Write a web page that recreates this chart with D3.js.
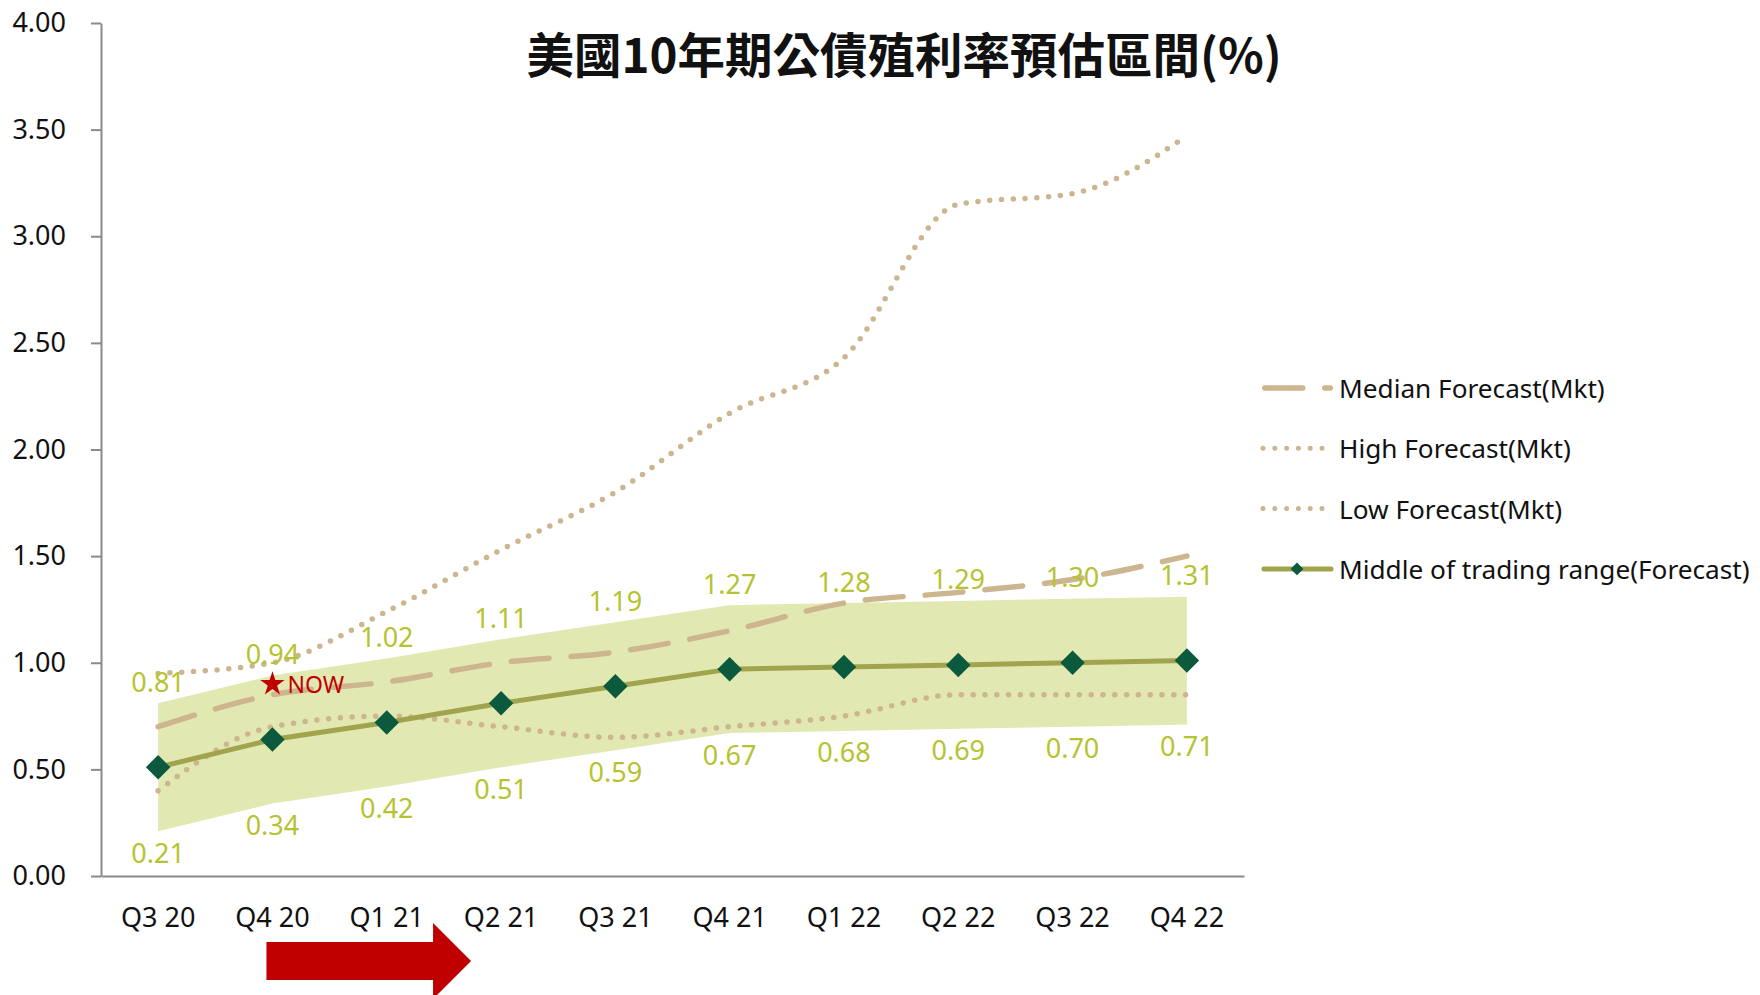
<html>
<head>
	<meta charset="utf-8">
	<title>US 10Y Treasury Yield Forecast</title>
	<style>
		body { margin: 0; background: #fff; }
		text { font-family: "Noto Sans", "Noto Sans CJK TC", sans-serif; }
	</style>
</head>
<body>
	<script src="https://cdnjs.cloudflare.com/ajax/libs/d3/7.8.5/d3.min.js"></script>
	<script type="text/javascript">
		// quarters on the x axis
		var categories = ["Q3 20", "Q4 20", "Q1 21", "Q2 21", "Q3 21", "Q4 21", "Q1 22", "Q2 22", "Q3 22", "Q4 22"];
		// trading range (forecast) band
		var rangeHigh = [0.81, 0.94, 1.02, 1.11, 1.19, 1.27, 1.28, 1.29, 1.30, 1.31];
		var rangeLow = [0.21, 0.34, 0.42, 0.51, 0.59, 0.67, 0.68, 0.69, 0.70, 0.71];
		var rangeMid = [0.51, 0.64, 0.72, 0.81, 0.89, 0.97, 0.98, 0.99, 1.00, 1.01];
		// market forecasts
		var medianMkt = [0.70, 0.85, 0.91, 1.00, 1.05, 1.15, 1.28, 1.33, 1.39, 1.50];
		var highMkt = [0.95, 1.00, 1.24, 1.53, 1.80, 2.17, 2.43, 3.15, 3.20, 3.47];
		var lowMkt = [0.40, 0.70, 0.75, 0.70, 0.65, 0.70, 0.75, 0.85, 0.85, 0.85];
		var yTicks = [0, 0.5, 1, 1.5, 2, 2.5, 3, 3.5, 4];
		var legendNames = ["Median Forecast(Mkt)", "High Forecast(Mkt)", "Low Forecast(Mkt)", "Middle of trading range(Forecast)"];
		var nowMark = {cat: "Q4 20", value: 0.90, label: "NOW"};
		var title = "美國10年期公債殖利率預估區間(%)";

		var W = 1760, H = 995;
		var tan = "#ccb58f", olive = "#a1a34d", dark = "#0b5a3d", lbl = "#b6c331", band = "#e2e8b2", red = "#c00000";
		var fs = "27px";

		var svg = d3.select("body").append("svg")
					.attr("width", W)
					.attr("height", H);

		var x = d3.scaleBand().domain(categories).range([101, 1244]);
		var y = d3.scaleLinear().domain([0, 4]).range([876, 23]);
		var xc = function(c){ return x(c) + x.bandwidth()/2; };

		function rows(vals){
			return categories.map(function(c, i){ return {c: c, v: vals[i]}; });
		}

		// band
		var bandData = categories.map(function(c, i){ return {c: c, lo: rangeLow[i], hi: rangeHigh[i]}; });
		svg.append("path")
			.datum(bandData)
			.attr("d", d3.area()
				.x(function(d){ return xc(d.c); })
				.y0(function(d){ return y(d.lo); })
				.y1(function(d){ return y(d.hi); }))
			.style("fill", band);

		// axes
		var yAxis = svg.append("g")
			.attr("transform", "translate(101,0)")
			.call(d3.axisLeft(y).tickValues(yTicks).tickFormat(d3.format(".2f")).tickSize(10).tickPadding(25).tickSizeOuter(0));
		yAxis.selectAll("text").style("font-size", fs).style("fill", "#111");

		var xAxis = svg.append("g")
			.attr("transform", "translate(0,876)")
			.call(d3.axisBottom(x).tickSize(0).tickPadding(32).tickSizeOuter(0));
		xAxis.selectAll("text").style("font-size", fs).style("fill", "#111");
		// ticks sit on the category boundaries
		xAxis.selectAll(".bound")
			.data(categories.map(function(c){ return x(c); }).concat([x.range()[1]]))
			.enter().append("line")
			.attr("x1", function(d){ return d; })
			.attr("x2", function(d){ return d; })
			.attr("y1", 0)
			.attr("y2", 10);
		svg.selectAll(".domain, .tick line, .bound")
			.style("stroke", "#8a8a8a")
			.style("stroke-width", "2px");

		var smooth = d3.line()
			.x(function(d){ return xc(d.c); })
			.y(function(d){ return y(d.v); })
			.curve(d3.curveMonotoneX);
		var straight = d3.line()
			.x(function(d){ return xc(d.c); })
			.y(function(d){ return y(d.v); });

		[highMkt, lowMkt].forEach(function(s){
			svg.append("path")
				.datum(rows(s))
				.attr("d", smooth)
				.style("fill", "none")
				.style("stroke", tan)
				.style("stroke-width", "5.5px")
				.style("stroke-linecap", "round")
				.style("stroke-dasharray", "0 11.8");
		});
		svg.append("path")
			.datum(rows(medianMkt))
			.attr("d", smooth)
			.style("fill", "none")
			.style("stroke", tan)
			.style("stroke-width", "5.5px")
			.style("stroke-linecap", "round")
			.style("stroke-dasharray", "38 22");

		svg.append("path")
			.datum(rows(rangeMid))
			.attr("d", straight)
			.style("fill", "none")
			.style("stroke", olive)
			.style("stroke-width", "5px");
		svg.selectAll(".mk")
			.data(rows(rangeMid))
			.enter().append("path")
			.attr("transform", function(d){ return "translate(" + xc(d.c) + "," + y(d.v) + ") rotate(45)"; })
			.attr("d", d3.symbol(d3.symbolSquare, 300))
			.style("fill", dark);

		// data labels of the band
		svg.selectAll(".hiLbl")
			.data(rows(rangeHigh))
			.enter().append("text")
			.attr("x", function(d){ return xc(d.c); })
			.attr("y", function(d){ return y(d.v) - 22; })
			.attr("text-anchor", "middle")
			.attr("dominant-baseline", "central")
			.style("font-size", fs)
			.style("fill", lbl)
			.text(function(d){ return d.v.toFixed(2); });
		svg.selectAll(".loLbl")
			.data(rows(rangeLow))
			.enter().append("text")
			.attr("x", function(d){ return xc(d.c); })
			.attr("y", function(d){ return y(d.v) + 21; })
			.attr("text-anchor", "middle")
			.attr("dominant-baseline", "central")
			.style("font-size", fs)
			.style("fill", lbl)
			.text(function(d){ return d.v.toFixed(2); });

		// NOW marker
		svg.append("path")
			.attr("transform", "translate(" + xc(nowMark.cat) + "," + y(nowMark.value) + ")")
			.attr("d", d3.symbol(d3.symbolStar, 185))
			.style("fill", red);
		svg.append("text")
			.attr("x", xc(nowMark.cat) + 15)
			.attr("y", y(nowMark.value))
			.attr("dominant-baseline", "central")
			.style("font-size", "23px")
			.style("fill", red)
			.text(nowMark.label);

		// arrow under the axis
		var ax0 = xc("Q4 20") - 6, ax1 = xc("Q2 21") - 30;
		svg.append("path")
			.attr("d", "M" + [ax0, 942] + " L" + [ax1 - 38, 942] + " L" + [ax1 - 38, 923] + " L" + [ax1, 961]
				+ " L" + [ax1 - 38, 999] + " L" + [ax1 - 38, 980] + " L" + [ax0, 980] + " Z")
			.style("fill", red);

		// title
		svg.append("text")
			.attr("x", 904)
			.attr("y", 52)
			.attr("text-anchor", "middle")
			.attr("dominant-baseline", "central")
			.style("font-family", "'Noto Sans CJK TC', sans-serif")
			.style("font-size", "47.5px")
			.style("font-weight", "bold")
			.style("fill", "#111")
			.text(title);

		// legend
		var lg = svg.append("g").attr("transform", "translate(1262,388)");
		legendNames.forEach(function(name, i){
			var row = lg.append("g").attr("transform", "translate(0," + (i*60.3) + ")");
			var ln = row.append("line")
				.style("stroke-linecap", "round");
			if(i === 0){
				ln.attr("x1", 2.75).attr("x2", 68.25)
					.style("stroke", tan).style("stroke-width", "5.5px").style("stroke-dasharray", "38 22");
			}else if(i < 3){
				ln.attr("x1", 1).attr("x2", 69)
					.style("stroke", tan).style("stroke-width", "5px").style("stroke-dasharray", "0 11.8");
			}else {
				ln.attr("x1", 2).attr("x2", 69)
					.style("stroke", olive).style("stroke-width", "5px");
				row.append("path")
					.attr("transform", "translate(35,0) rotate(45)")
					.attr("d", d3.symbol(d3.symbolSquare, 80))
					.style("fill", dark);
			}
			row.append("text")
				.attr("x", 77)
				.attr("dominant-baseline", "central")
				.style("font-size", "26.2px")
				.style("fill", "#111")
				.text(name);
		});
	</script>
</body>
</html>
